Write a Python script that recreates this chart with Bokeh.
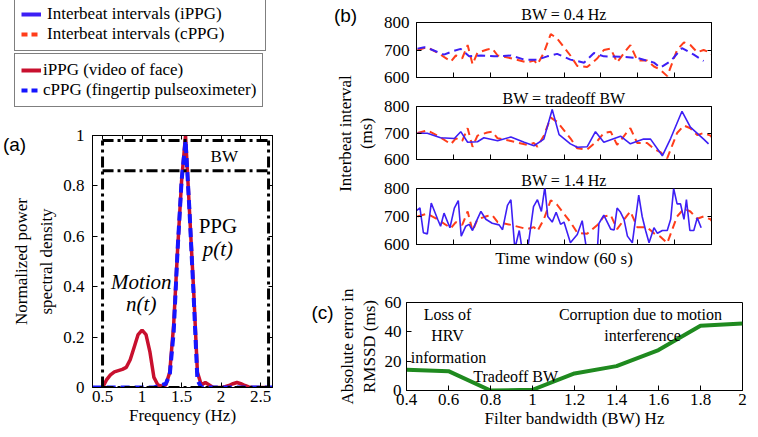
import math
from bokeh.plotting import figure
from bokeh.models import Range1d, Legend, LegendItem, Label, FixedTicker, LinearAxis
from bokeh.layouts import row, column
from bokeh.embed import file_html
from bokeh.resources import INLINE

SERIF = "Liberation Serif"
SANS = "Liberation Sans"

# ---------------- Panel (a) data ----------------
freq_ippg = [0.50, 0.55, 0.60, 0.65, 0.70, 0.75, 0.80, 0.85, 0.90, 0.95, 1.00, 1.05, 1.10, 1.15,
             1.20, 1.25, 1.30, 1.35, 1.40, 1.45, 1.50, 1.55, 1.60, 1.65, 1.70, 1.75, 1.80, 1.85,
             1.90, 1.95, 2.00, 2.05, 2.10, 2.15, 2.20, 2.25, 2.30, 2.35, 2.40, 2.45, 2.50, 2.55, 2.60]
psd_ippg = [0.00, 0.03, 0.05, 0.062, 0.067, 0.072, 0.08, 0.11, 0.16, 0.21, 0.228, 0.21, 0.14, 0.04,
            0.01, 0.005, 0.01, 0.06, 0.25, 0.55, 0.82, 1.00, 0.70, 0.40, 0.06, 0.01, 0.02, 0.01,
            0.0, 0.0, 0.0, 0.003, 0.008, 0.015, 0.02, 0.015, 0.008, 0.002, 0.0, 0.0, 0.0, 0.0, 0.0]
freq_cppg = [0.375, 0.50, 0.60, 0.70, 0.80, 0.90, 1.00, 1.10, 1.15, 1.20, 1.25, 1.30, 1.35, 1.40,
             1.45, 1.50, 1.55, 1.60, 1.65, 1.70, 1.75, 1.80, 1.90, 2.00, 2.20, 2.40, 2.60, 2.65]
psd_cppg = [0.0, 0.0, 0.0, 0.0, 0.0, 0.0, 0.0, 0.0, 0.0, 0.005, 0.01, 0.015, 0.05, 0.22,
            0.55, 0.82, 0.98, 0.70, 0.38, 0.03, 0.0, 0.0, 0.0, 0.0, 0.0, 0.0, 0.0, 0.0]
bw_low, bw_high = 0.5, 2.6
bw_top, bw_mid = 0.98, 0.86
a_xticks = [0.5, 1, 1.5, 2, 2.5]
a_top_ticks = [0.5, 0.75, 1, 1.25, 1.5, 1.75, 2, 2.25, 2.5]
a_yticks = [0, 0.2, 0.4, 0.6, 0.8, 1]

# ---------------- Panel (b) data ----------------
t_cppg = [0.2, 2.2, 4.3, 7.0, 8.0, 9.3, 10.4, 11.4, 12.4, 14.4, 15.4, 16.5, 19.2, 22.5, 23.9, 24.6,
          25.9, 27.3, 28.6, 31.3, 32.7, 34.7, 36.8, 38.1, 39.5, 40.8, 42.9, 43.5, 44.9, 46.9, 48.3,
          49.6, 51.0, 53.0, 54.4, 55.7, 57.1, 58.4, 59.8, 61.0]
ibi_cppg = [700, 710, 690, 658, 680, 670, 718, 648, 690, 702, 705, 680, 670, 655, 662, 648,
            690, 758, 742, 680, 642, 638, 670, 700, 705, 655, 705, 718, 662, 662, 640,
            628, 605, 700, 728, 718, 692, 700, 690, 662]

t_bw04 = [0.2, 1.6, 2.6, 5.6, 7.3, 9.0, 10.7, 13.1, 15.8, 19.2, 21.9, 24.6, 26.6, 28.6, 31.3,
          34.1, 36.1, 38.1, 42.2, 44.9, 48.3, 49.6, 51.7, 54.0, 56.4, 58.4]
ibi_bw04 = [705, 710, 705, 683, 695, 704, 677, 680, 677, 680, 665, 665, 677, 686, 665,
            654, 689, 677, 675, 671, 654, 636, 660, 707, 683, 660]

t_trade = [0.2, 2.2, 4.9, 7.7, 9.0, 10.4, 12.4, 13.7, 16.5, 19.2, 21.9, 23.9, 25.9, 27.6, 29.0,
           31.3, 32.7, 34.7, 36.4, 38.1, 41.5, 43.5, 46.2, 47.6, 50.0, 51.7, 54.0, 55.7, 58.4, 59.4]
ibi_trade = [699, 699, 682, 679, 705, 665, 667, 682, 671, 685, 665, 652, 677, 789, 694,
             659, 646, 648, 705, 665, 688, 659, 677, 677, 614, 680, 782, 722, 677, 659]

t_bw14 = [0.0, 0.7, 1.4, 2.2, 3.0, 4.3, 4.9, 5.6, 6.8, 7.7, 8.5, 9.1, 10.0, 10.7, 11.4, 12.1,
          13.1, 14.1, 15.4, 16.8, 17.5, 18.5, 19.2, 20.0, 20.9, 21.5, 22.7, 23.8, 24.6, 25.4,
          26.1, 26.7, 27.6, 28.4, 29.3, 30.0, 31.3, 32.7, 33.7, 34.7, 36.8, 37.1, 38.1, 38.8,
          39.5, 40.2, 40.8, 41.5, 42.2, 42.9, 43.9, 45.2, 45.9, 46.6, 47.3, 48.3, 49.0, 50.0,
          51.0, 51.7, 52.3, 53.0, 53.7, 54.4, 54.9, 55.6, 56.4, 57.1, 57.9]
ibi_bw14 = [721, 731, 642, 638, 748, 690, 665, 712, 660, 730, 757, 630, 665, 672, 650, 680,
            718, 690, 676, 670, 653, 740, 760, 585, 650, 580, 595, 735, 760, 718,
            805, 700, 680, 715, 672, 680, 606, 636, 685, 570, 585, 675, 705, 680,
            655, 652, 730, 715, 690, 630, 606, 776, 700, 650, 606, 660, 640, 650,
            650, 690, 800, 745, 745, 690, 760, 650, 650, 695, 660]
b_xticks = [7.5, 15, 22.5, 30, 37.5, 45, 52.5]
b_yticks = [600, 700, 800]

# ---------------- Panel (c) data ----------------
bw_hz = [0.4, 0.6, 0.8, 1.0, 1.2, 1.4, 1.6, 1.8, 2.0]
rmssd_err = [14.2, 13.2, 0.0, 0.5, 11.6, 16.6, 27.6, 44.2, 45.6]
c_xticks = [0.4, 0.6, 0.8, 1.0, 1.2, 1.4, 1.6, 1.8, 2.0]
c_yticks = [0, 20, 40, 60]

BLUE_B = "#3d1ff5"
RED_B = "#ff3d1a"
RED_A = "#c8102e"
BLUE_A = "#1515ff"
GREEN = "#1f8a1f"


def style_axis(ax):
    ax.major_tick_in = 5
    ax.major_tick_out = 0
    ax.minor_tick_in = 0
    ax.minor_tick_out = 0
    ax.axis_line_color = "black"
    ax.major_tick_line_color = "black"
    ax.major_label_text_font = SERIF
    ax.major_label_text_font_size = "17px"
    ax.major_label_text_color = "black"
    ax.axis_label_text_font = SERIF
    ax.axis_label_text_font_size = "17px"
    ax.axis_label_text_font_style = "normal"
    ax.axis_label_text_color = "black"
    ax.major_label_standoff = 5
    ax.axis_label_standoff = 3


def hide_labels(ax):
    ax.major_label_text_font_size = "1px"
    ax.major_label_text_color = None
    ax.major_label_standoff = 0


def mirror_axis(p, side, ticks):
    ax = LinearAxis(ticker=FixedTicker(ticks=ticks, minor_ticks=[]))
    style_axis(ax)
    ax.major_tick_in = 4
    hide_labels(ax)
    p.add_layout(ax, side)


def make_fig(w, h, xr, yr, left, right, top, bottom):
    p = figure(width=w, height=h, x_range=xr, y_range=yr, output_backend="svg",
               toolbar_location=None, min_border_left=left, min_border_right=right,
               min_border_top=top, min_border_bottom=bottom, frame_align=False)
    p.outline_line_color = "black"
    p.outline_line_width = 1
    p.outline_line_alpha = 1
    p.grid.visible = False
    for ax in p.axis:
        style_axis(ax)
    return p


def blank_fig(w, h):
    p = figure(width=w, height=h, x_range=Range1d(0, w), y_range=Range1d(0, h),
               output_backend="svg", toolbar_location=None, x_axis_type=None,
               y_axis_type=None, min_border=0, frame_align=False)
    p.outline_line_color = None
    p.grid.visible = False
    return p


def add_label(p, x, y, text, size="17px", style="normal", font=SERIF, align="center", angle=0.0):
    p.add_layout(Label(x=x, y=y, text=text, text_font=font, angle=angle,
                       text_font_size=size, text_font_style=style, text_align=align,
                       text_baseline="middle", text_color="black"))


# ---------------- Legend figure ----------------
pl = blank_fig(290, 110)
r1 = pl.line(x=[-5, -4], y=[-5, -4], line_color=BLUE_B, line_width=4)
r2 = pl.line(x=[-5, -4], y=[-5, -4], line_color=RED_B, line_width=4, line_dash="6 4")
r3 = pl.line(x=[-5, -4], y=[-5, -4], line_color=RED_A, line_width=4)
r4 = pl.line(x=[-5, -4], y=[-5, -4], line_color=BLUE_A, line_width=4, line_dash="6 4")
PAD = "\u2002" * 4 + "\u200b"
leg1 = Legend(items=[LegendItem(label="Interbeat intervals (iPPG)" + PAD, renderers=[r1]),
                     LegendItem(label="Interbeat intervals (cPPG)" + PAD, renderers=[r2])],
              location=(14, 59))
leg2 = Legend(items=[LegendItem(label="iPPG (video of face)", renderers=[r3]),
                     LegendItem(label="cPPG (fingertip pulseoximeter)", renderers=[r4])],
              location=(14, 3))
for lg, st in ((leg1, 6), (leg2, 2)):
    lg.label_text_font = SERIF
    lg.label_text_font_size = "17px"
    lg.label_text_color = "black"
    lg.label_standoff = st
    lg.glyph_width = 20
    lg.glyph_height = 18
    lg.label_height = 18
    lg.spacing = 0
    lg.padding = 6
    lg.margin = 0
    lg.border_line_color = "black"
    lg.border_line_width = 1
    lg.background_fill_alpha = 1
    pl.add_layout(lg)

# ---------------- Panel (a) ----------------
pa = make_fig(230, 322, Range1d(0.373, 2.65), Range1d(0, 1), 32, 18, 25, 45)
pa.xaxis.ticker = FixedTicker(ticks=a_xticks, minor_ticks=[])
pa.yaxis.ticker = FixedTicker(ticks=a_yticks, minor_ticks=[])
pa.xaxis.major_label_overrides = {1: "1", 2: "2"}
pa.yaxis.major_label_overrides = {0: "0", 1: "1"}
pa.yaxis.major_label_standoff = 8
pa.xaxis.major_label_standoff = 3
pa.xaxis.axis_label = "Frequency (Hz)"
pa.xaxis.axis_label_standoff = 1
mirror_axis(pa, "above", a_top_ticks)
mirror_axis(pa, "right", a_yticks)
pa.line(freq_ippg, psd_ippg, line_color=RED_A, line_width=3.5)
pa.line(freq_cppg, psd_cppg, line_color=BLUE_A, line_width=4, line_dash="9 5")
dd = "11 4 3 4"
pa.line([bw_low, bw_low], [0, bw_top], line_color="black", line_width=3, line_dash=dd)
pa.line([bw_high, bw_high], [0, bw_top], line_color="black", line_width=3, line_dash=dd)
pa.line([bw_low, bw_high], [bw_top, bw_top], line_color="black", line_width=3, line_dash=dd)
pa.line([bw_low, bw_high], [bw_mid, bw_mid], line_color="black", line_width=3, line_dash=dd)
pa.line([bw_low, bw_high], [0, 0], line_color="black", line_width=3, line_dash=dd)
add_label(pa, 2.04, 0.917, "BW", size="17px")
add_label(pa, 1.96, 0.64, "PPG", size="21px")
add_label(pa, 1.96, 0.55, "p(t)", size="21px", style="italic")
add_label(pa, 0.99, 0.42, "Motion", size="21px", style="italic")
add_label(pa, 0.99, 0.33, "n(t)", size="21px", style="italic")

# strip left of (a): panel letter and y label
sa = blank_fig(60, 322)
add_label(sa, 14, 288, "(a)", size="19px", font=SANS)
add_label(sa, 21, 171, "Normalized power", angle=math.pi / 2)
add_label(sa, 46, 171, "spectral density", angle=math.pi / 2)

# ---------------- Panel (b) ----------------
def b_fig(h, top, bottom, title):
    p = make_fig(376, h, Range1d(0, 60), Range1d(600, 800), 36, 45, top, bottom)
    p.xaxis.ticker = FixedTicker(ticks=b_xticks, minor_ticks=[])
    p.yaxis.ticker = FixedTicker(ticks=b_yticks, minor_ticks=[])
    p.yaxis.major_label_standoff = 7
    hide_labels(p.xaxis[0])
    mirror_axis(p, "right", b_yticks)
    p.title.text = title
    p.title.text_font = SERIF
    p.title.text_font_size = "16px"
    p.title.text_font_style = "normal"
    p.title.align = "center"
    p.title.standoff = 0
    p.title.text_color = "black"
    return p


pb1 = b_fig(87, 22, 10, "BW = 0.4 Hz")
pb1.line(t_cppg, ibi_cppg, line_color=RED_B, line_width=2, line_dash="8 5")
pb1.line(t_bw04, ibi_bw04, line_color=BLUE_B, line_width=2, line_dash="8 5")

pb2 = b_fig(82, 19, 10, "BW = tradeoff BW")
pb2.line(t_cppg, ibi_cppg, line_color=RED_B, line_width=2, line_dash="8 5")
pb2.line(t_trade, ibi_trade, line_color=BLUE_B, line_width=1.6)

pb3 = b_fig(106, 19, 31, "BW = 1.4 Hz")
pb3.xaxis.axis_label = "Time window (60 s)"
pb3.xaxis.axis_label_standoff = 4
pb3.line(t_cppg, ibi_cppg, line_color=RED_B, line_width=2, line_dash="8 5")
pb3.line(t_bw14, ibi_bw14, line_color=BLUE_B, line_width=1.6)

# strip with the shared (b) y label
sb = blank_fig(90, 275)
add_label(sb, 55, 260, "(b)", size="19px", font=SANS)
add_label(sb, 55, 142, "Interbeat interval", angle=math.pi / 2)
add_label(sb, 76, 142, "(ms)", angle=math.pi / 2)

# ---------------- Panel (c) ----------------
pc = make_fig(376, 157, Range1d(0.4, 2.0), Range1d(0, 60), 26, 14, 27, 42)
pc.xaxis.ticker = FixedTicker(ticks=c_xticks, minor_ticks=[])
pc.yaxis.ticker = FixedTicker(ticks=c_yticks, minor_ticks=[])
pc.yaxis.major_label_standoff = 5
pc.xaxis.major_label_standoff = 3
pc.xaxis.axis_label = "Filter bandwidth (BW) Hz"
pc.xaxis.axis_label_standoff = 1
pc.line(bw_hz, rmssd_err, line_color=GREEN, line_width=4)
add_label(pc, 0.595, 51.8, "Loss of", size="16px")
add_label(pc, 0.595, 37.5, "HRV", size="16px")
add_label(pc, 0.60, 22.5, "information", size="16px")
add_label(pc, 0.92, 9.5, "Tradeoff BW", size="16px")
add_label(pc, 1.514, 51.8, "Corruption due to motion", size="16px")
add_label(pc, 1.524, 37.5, "interference", size="16px")

sc = blank_fig(90, 157)
add_label(sc, 32, 120, "(c)", size="19px", font=SANS)
add_label(sc, 57, 86, "Absolute error in", angle=math.pi / 2)
add_label(sc, 79, 86, "RMSSD (ms)", angle=math.pi / 2)

layout = row(column(pl, row(sa, pa)),
             column(row(sb, column(pb1, pb2, pb3)), row(sc, pc)))
open("out.html", "w").write(file_html(layout, INLINE))
